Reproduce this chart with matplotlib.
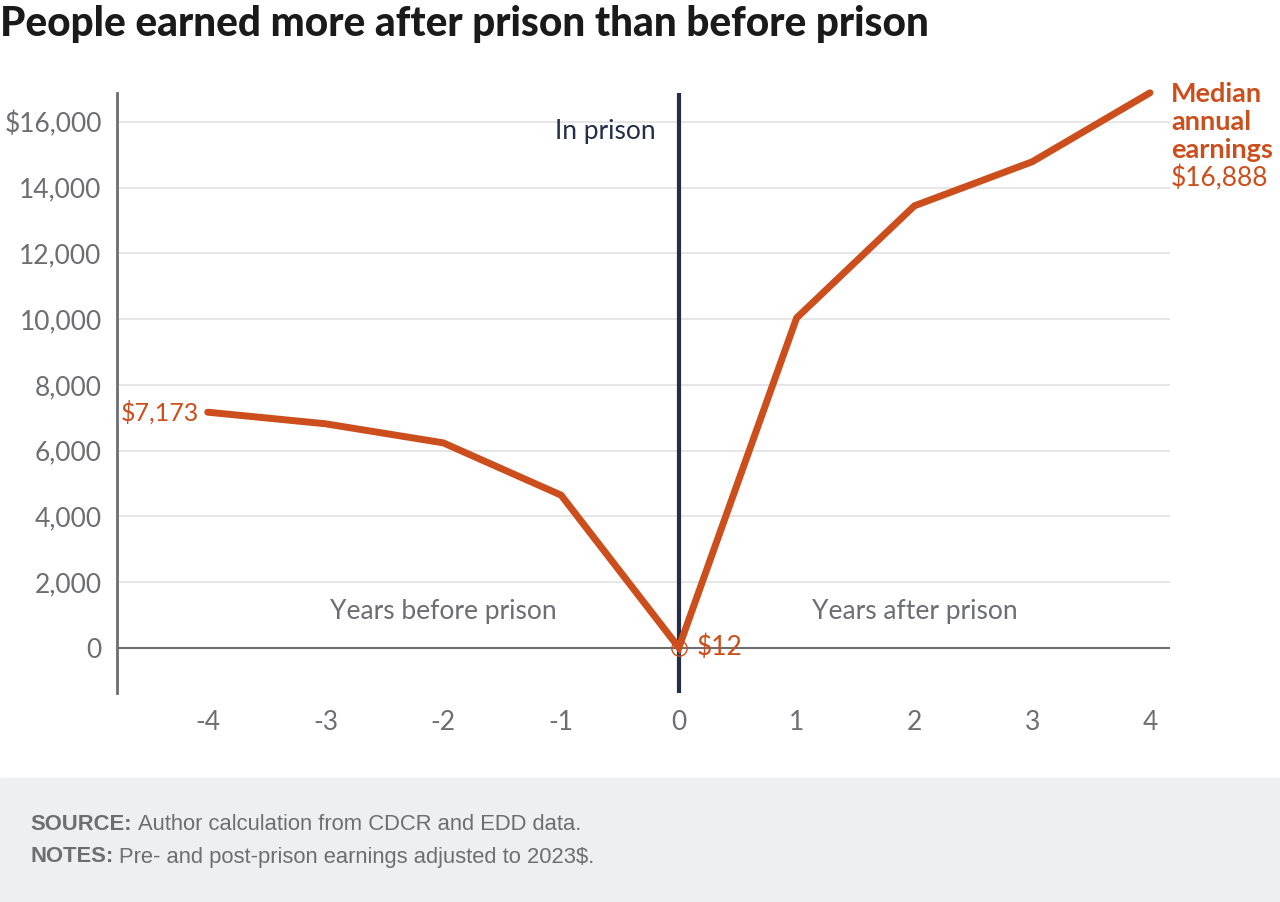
import matplotlib.pyplot as plt
from matplotlib.ticker import FuncFormatter

years = [-4, -3, -2, -1, 0, 1, 2, 3, 4]
earnings = [7173, 6820, 6240, 4650, 12, 10040, 13450, 14790, 16888]
y_ticks = [0, 2000, 4000, 6000, 8000, 10000, 12000, 14000, 16000]
callout = ["Median", "annual", "earnings"]

ORANGE = "#cc4e1c"
NAVY = "#232f48"
GREY = "#6d6e71"
FS = 19

plt.rcParams["font.family"] = ["Lato", "DejaVu Sans"]

fig = plt.figure(figsize=(12.8, 9.02), dpi=100)
ax = fig.add_axes([117 / 1280, 1 - 693 / 902, (1170 - 117) / 1280, 600 / 902])

# footer band
fig.patches.append(plt.Rectangle((0, 0), 1, 124 / 902, transform=fig.transFigure,
                                 color="#eeeff1", zorder=0))

ax.set_xlim(-4.77, 4.17)
ax.set_ylim(-1369, 16882)
for side in ("top", "right", "bottom"):
    ax.spines[side].set_visible(False)
ax.spines["left"].set_color(GREY)
ax.spines["left"].set_linewidth(2)

ax.set_yticks(y_ticks)
ax.yaxis.set_major_formatter(FuncFormatter(
    lambda v, p: f"${v:,.0f}" if v == 16000 else f"{v:,.0f}"))
ax.set_xticks(years)
ax.set_xticklabels([str(y) for y in years])
ax.tick_params(axis="both", length=0, labelsize=FS, labelcolor=GREY)
ax.tick_params(axis="y", pad=11)
ax.tick_params(axis="x", pad=12)

for t in y_ticks[1:]:
    ax.axhline(t, color="#e4e4e4", lw=1.3, zorder=1)
ax.axhline(0, color=GREY, lw=1.5, zorder=2)
ax.axvline(0, color=NAVY, lw=3, zorder=3)

ax.plot(years, earnings, color=ORANGE, lw=5, solid_capstyle="round",
        solid_joinstyle="miter", zorder=4, clip_on=False)
ax.plot([0], [earnings[4]], marker="o", ms=11, mfc="none", mec=ORANGE, mew=1, zorder=5)

ax.text(-0.2, 15720, "In prison", color=NAVY, fontsize=FS, ha="right", va="center")
ax.text(-2, 1095, "Years before prison", color=GREY, fontsize=FS, ha="center", va="center")
ax.text(2, 1095, "Years after prison", color=GREY, fontsize=FS, ha="center", va="center")

ax.text(-4.07, earnings[0], f"${earnings[0]:,}", color=ORANGE, fontsize=18,
        ha="right", va="center")
ax.text(0.15, earnings[4], f"${earnings[4]}", color=ORANGE, fontsize=FS,
        ha="left", va="center")

for i, word in enumerate(callout):
    fig.text(1171 / 1280, 1 - (94 + 28 * i) / 902, word, color=ORANGE,
             fontsize=19.5, fontweight="bold", ha="left", va="center")
fig.text(1171 / 1280, 1 - 178 / 902, f"${earnings[-1]:,}", color=ORANGE,
         fontsize=FS, ha="left", va="center")

fig.text(0, 1 - 24 / 902, "People earned more after prison than before prison",
         fontsize=29.2, fontweight="black", color="#1a1a1a", ha="left", va="center")

# footer: bold lead-in followed by regular text
foot = ["Liberation Sans", "DejaVu Sans"]
renderer = fig.canvas.get_renderer()
for y, lead, body in [(825, "SOURCE:", "Author calculation from CDCR and EDD data."),
                      (857, "NOTES:", "Pre- and post-prison earnings adjusted to 2023$.")]:
    t = fig.text(30 / 1280, 1 - y / 902, lead, family=foot, fontsize=15.8,
                 fontweight="bold", color=GREY, va="center")
    x1 = t.get_window_extent(renderer).x1
    fig.text((x1 + 6) / 1280, 1 - y / 902, body, family=foot, fontsize=15.8,
             color=GREY, va="center")

fig.savefig("out.png", dpi=100)
